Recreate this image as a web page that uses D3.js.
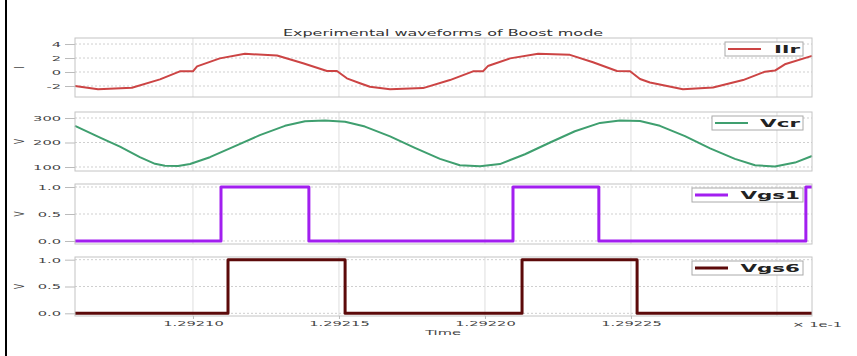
<!DOCTYPE html>
<html><head><meta charset="utf-8">
<script src="https://cdn.jsdelivr.net/npm/d3@7"></script>
<style>body{margin:0;background:#fff}svg{display:block}</style>
</head><body><svg id="chart" width="857" height="356"></svg>
<script>
// time axis (values shown as x 1e-1 s)
const timeDomain = [1.2920596, 1.2923120];
const timeTicks = [1.29210, 1.29215, 1.29220, 1.29225, 1.29230];

// resonant inductor current
const ilrTime = [1.2920596, 1.2920675, 1.2920791, 1.2920887, 1.2920955, 1.2921000, 1.2921014, 1.2921092,
  1.2921178, 1.2921288, 1.2921377, 1.2921459, 1.2921493, 1.2921527, 1.2921572, 1.2921606, 1.2921675,
  1.2921788, 1.2921880, 1.2921959, 1.2921993, 1.2922010, 1.2922086, 1.2922182, 1.2922291, 1.2922370,
  1.2922452, 1.2922497, 1.2922531, 1.2922565, 1.2922678, 1.2922781, 1.2922884, 1.2922959, 1.2922993,
  1.2923027, 1.2923120];
const ilrValue = [-2.0, -2.45, -2.25, -1.05, 0.1, 0.1, 0.8, 1.95,
  2.6, 2.35, 1.25, 0.15, 0.15, -0.9, -1.6, -2.1, -2.45,
  -2.3, -1.15, 0.1, 0.1, 0.85, 1.95, 2.6, 2.45, 1.4,
  0.15, 0.1, -1.0, -1.5, -2.45, -2.2, -1.15, 0.05, 0.2,
  1.1, 2.3];

// resonant capacitor voltage
const vcrTime = [1.2920596, 1.2920682, 1.2920750, 1.2920818, 1.2920870, 1.2920904, 1.2920949, 1.2920990,
  1.2921058, 1.2921144, 1.2921229, 1.2921315, 1.2921384, 1.2921452, 1.2921521, 1.2921589, 1.2921675,
  1.2921760, 1.2921846, 1.2921914, 1.2921983, 1.2922051, 1.2922137, 1.2922223, 1.2922308, 1.2922394,
  1.2922462, 1.2922531, 1.2922599, 1.2922685, 1.2922771, 1.2922856, 1.2922925, 1.2922993, 1.2923062,
  1.2923120];
const vcrValue = [268, 220, 183, 140, 113, 105, 104, 112,
  140, 185, 230, 268, 287, 290, 285, 265, 225,
  178, 133, 107, 103, 112, 152, 200, 246, 280,
  290, 288, 268, 226, 176, 133, 107, 102, 118,
  145];

// gate signals: switching instants and the level held after each one
const vgs1Time = [1.2920596, 1.2921096, 1.2921397, 1.2922096, 1.2922390, 1.2923099, 1.2923120];
const vgs1Level = [0, 1, 0, 1, 0, 1, 1];
const vgs6Time = [1.2920596, 1.2921120, 1.2921521, 1.2922127, 1.2922521, 1.2923120];
const vgs6Level = [0, 1, 0, 1, 0, 0];

const panelNames = ["Ilr", "Vcr", "Vgs1", "Vgs6"];
const panelUnits = ["I", "V", "V", "V"];
const panelTicks = [[-2, 0, 2, 4], [100, 200, 300], [0, 0.5, 1.0], [0, 0.5, 1.0]];
const panelRanges = [[-3.57, 4.86], [83.7, 324.5], [-0.0556, 1.0556], [-0.05, 1.05]];

const title = "Experimental waveforms of Boost mode";

const SX = 1.95; // horizontal text stretch
const svg = d3.select("#chart");
const left = 75, right = 812;
const panelBox = [[38, 97], [112, 171], [184, 244], [257, 316]];
const colors = ["#cc4444", "#3f9f6f", "#a21ff0", "#5c0a0a"];
const widths = [2, 2, 3, 3];
const legendLeft = [725, 712, 692, 692];

const x = d3.scaleLinear().domain(timeDomain).range([left, right]);

const series = [
  {t: ilrTime, v: ilrValue, step: false},
  {t: vcrTime, v: vcrValue, step: false},
  {t: vgs1Time, v: vgs1Level, step: true},
  {t: vgs6Time, v: vgs6Level, step: true}
];

// frame on the left edge
svg.append("line").attr("x1", 6).attr("x2", 6).attr("y1", 0).attr("y2", 356)
  .attr("stroke", "#000").attr("stroke-width", 2);

function stretched(g, px, py, str, size, weight, fill, anchor) {
  return g.append("text")
    .attr("transform", `translate(${px},${py}) scale(${SX},1)`)
    .attr("text-anchor", anchor || "middle")
    .attr("font-family", "DejaVu Sans")
    .attr("font-size", size)
    .attr("font-weight", weight || "normal")
    .attr("fill", fill)
    .text(str);
}

stretched(svg, 443, 36, title, 8.2, "normal", "#333");

panelNames.forEach((name, i) => {
  const [top, bottom] = panelBox[i];
  const y = d3.scaleLinear().domain(panelRanges[i]).range([bottom, top]);
  const g = svg.append("g");

  // grid
  g.selectAll(".hg").data(panelTicks[i]).join("line")
    .attr("x1", left).attr("x2", right).attr("y1", d => y(d)).attr("y2", d => y(d))
    .attr("stroke", "#cfcfcf").attr("stroke-dasharray", "2,2").attr("stroke-width", 1);
  g.selectAll(".vg").data(timeTicks).join("line")
    .attr("x1", d => x(d)).attr("x2", d => x(d)).attr("y1", top).attr("y2", bottom)
    .attr("stroke", "#dedede").attr("stroke-width", 1);

  // y axis
  const fmt = i >= 2 ? d3.format(".1f") : d3.format("d");
  const ya = g.append("g").attr("transform", `translate(${left},0)`)
    .call(d3.axisLeft(y).tickValues(panelTicks[i]).tickSize(10).tickPadding(4).tickFormat(d => fmt(d).replace("\u2212", "-")));
  ya.select(".domain").remove();
  ya.selectAll(".tick line").attr("stroke", "#bbb");
  ya.selectAll(".tick text")
    .attr("font-family", "DejaVu Sans").attr("font-size", 7.5).attr("fill", "#444")
    .attr("x", -14 / SX).attr("transform", `scale(${SX},1)`);

  // y label
  g.append("text")
    .attr("transform", `translate(24,${(top + bottom) / 2}) rotate(-90) scale(1,${SX})`)
    .attr("text-anchor", "middle").attr("font-family", "DejaVu Sans").attr("font-size", 7.5)
    .attr("fill", "#444").text(panelUnits[i]);

  // trace
  const s = series[i];
  const pts = s.t.map((t, k) => [t, s.v[k]]);
  const line = d3.line().x(d => x(d[0])).y(d => y(d[1]))
    .curve(s.step ? d3.curveStepAfter : d3.curveLinear);
  g.append("path").attr("d", line(pts)).attr("fill", "none")
    .attr("stroke", colors[i]).attr("stroke-width", widths[i]).attr("stroke-linejoin", "round");

  // frame
  g.append("rect").attr("x", left).attr("y", top).attr("width", right - left).attr("height", bottom - top)
    .attr("fill", "none").attr("stroke", "#c4c4c4").attr("stroke-width", 1);

  // legend
  const lx = legendLeft[i], lr = 803, ly = top + 4, lh = 14;
  g.append("rect").attr("x", lx).attr("y", ly).attr("width", lr - lx).attr("height", lh)
    .attr("fill", "#fff").attr("stroke", "#aaa").attr("stroke-width", 1);
  g.append("line").attr("x1", lx + 3).attr("x2", lx + 36).attr("y1", ly + lh / 2).attr("y2", ly + lh / 2)
    .attr("stroke", colors[i]).attr("stroke-width", widths[i]);
  stretched(g, lr - 3, ly + lh - 3, name, 11, "bold", "#222", "end");
});

// x axis under last panel
const xa = svg.append("g").attr("transform", `translate(0,${panelBox[3][1]})`)
  .call(d3.axisBottom(x).tickValues(timeTicks.slice(0, 4)).tickSize(3).tickPadding(2).tickFormat(d3.format(".5f")));
xa.select(".domain").remove();
xa.selectAll(".tick line").attr("stroke", "#bbb");
xa.selectAll(".tick text").attr("font-family", "DejaVu Sans").attr("font-size", 7.5).attr("fill", "#444")
  .attr("transform", `scale(${SX},1)`);

stretched(svg, 443, 335, "Time", 7.5, "normal", "#444");
stretched(svg, 842, 327, "\u00d7 1e-1", 7.5, "normal", "#444", "end");
</script></body></html>
